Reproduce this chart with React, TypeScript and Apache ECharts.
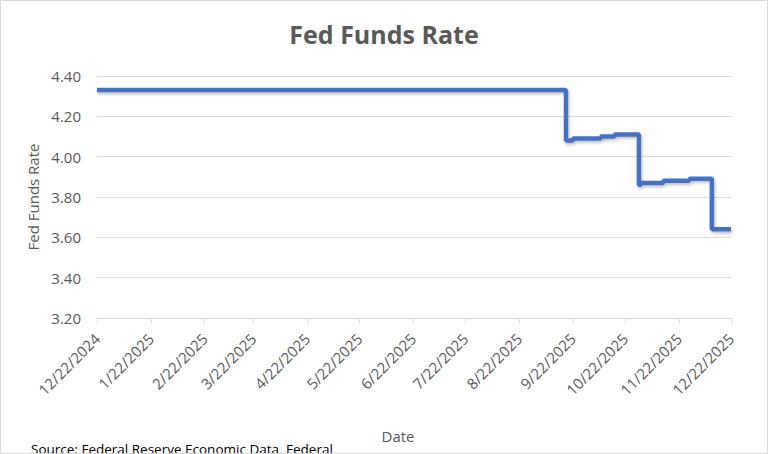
import React, { useEffect, useRef } from "react";
import * as echarts from "echarts";

const changeDates = [
  "12/22/2024", "9/18/2025", "9/22/2025", "10/8/2025", "10/16/2025",
  "10/30/2025", "10/31/2025", "11/13/2025", "11/28/2025", "12/11/2025", "12/22/2025",
];
const rateValues = [4.33, 4.08, 4.09, 4.10, 4.11, 3.86, 3.87, 3.88, 3.89, 3.64, 3.64];

const xTickLabels = [
  "12/22/2024", "1/22/2025", "2/22/2025", "3/22/2025", "4/22/2025", "5/22/2025",
  "6/22/2025", "7/22/2025", "8/22/2025", "9/22/2025", "10/22/2025", "11/22/2025", "12/22/2025",
];
const yTicks = [3.2, 3.4, 3.6, 3.8, 4.0, 4.2, 4.4];

const DAY = 86400000;
const toTs = (s: string) => {
  const [m, d, y] = s.split("/").map(Number);
  return Date.UTC(y, m - 1, d) / DAY;
};
const fmt = (v: number) => {
  const d = new Date(Math.round(v) * DAY);
  return `${d.getUTCMonth() + 1}/${d.getUTCDate()}/${d.getUTCFullYear()}`;
};

const FONT = "'Open Sans', 'Noto Sans', sans-serif";
const GRAY = "#595959";

export default function App() {
  const ref = useRef<HTMLDivElement>(null);
  useEffect(() => {
    if (!ref.current) return;
    const chart = echarts.init(ref.current, undefined, { renderer: "svg" });
    const tickTs = xTickLabels.map(toTs);
    chart.setOption({
      animation: false,
      backgroundColor: "#ffffff",
      textStyle: { fontFamily: FONT },
      title: {
        text: "Fed Funds Rate",
        left: "center",
        top: 16,
        textStyle: { fontFamily: FONT, fontSize: 25, fontWeight: "bold", color: GRAY },
      },
      grid: { left: 97, right: 37, top: 76, bottom: 136 },
      xAxis: {
        type: "value",
        min: tickTs[0],
        max: tickTs[tickTs.length - 1],
        name: "Date",
        nameLocation: "middle",
        nameGap: 110,
        nameTextStyle: { fontFamily: FONT, fontSize: 15, color: GRAY, padding: [0, 32, 0, 0] },
        axisLine: { show: true, lineStyle: { color: "#d9d9d9", width: 1 } },
        axisTick: { show: true, customValues: tickTs, length: 5, lineStyle: { color: "#d9d9d9" } },
        axisLabel: {
          customValues: tickTs,
          rotate: 45,
          margin: 18,
          fontFamily: FONT,
          fontSize: 15,
          color: GRAY,
          formatter: (v: number) => fmt(v),
        },
        splitLine: { show: false },
      },
      yAxis: {
        type: "value",
        min: yTicks[0],
        max: yTicks[yTicks.length - 1],
        interval: 0.2,
        name: "Fed Funds Rate",
        nameLocation: "middle",
        nameGap: 57,
        nameTextStyle: { fontFamily: FONT, fontSize: 15, color: GRAY },
        axisLine: { show: false },
        axisTick: { show: false },
        axisLabel: {
          margin: 16,
          fontFamily: FONT,
          fontSize: 15,
          color: GRAY,
          formatter: (v: number) => v.toFixed(2),
        },
        splitLine: { show: true, lineStyle: { color: "#d9d9d9", width: 1 } },
      },
      series: [
        {
          type: "line",
          step: "end",
          showSymbol: false,
          data: changeDates.map((d, i) => [toTs(d), rateValues[i]]),
          lineStyle: {
            color: "#4472C4",
            width: 4.5,
            shadowColor: "rgba(0,0,0,0.25)",
            shadowBlur: 3,
            shadowOffsetY: 2,
            shadowOffsetX: 1,
          },
          itemStyle: { color: "#4472C4" },
        },
      ],
      graphic: [
        {
          type: "text",
          left: 31,
          top: 442,
          style: {
            text: "Source: Federal Reserve Economic Data, Federal",
            fontFamily: FONT,
            fontSize: 13.5,
            fill: "#000000",
          },
        },
        {
          type: "rect",
          shape: { x: 0.5, y: 0.5, width: 767, height: 453 },
          style: { fill: "none", stroke: "#d9d9d9", lineWidth: 1 },
          silent: true,
        },
      ],
    });
    return () => chart.dispose();
  }, []);
  return (
    <div
      ref={ref}
      style={{ position: "fixed", left: 0, top: 0, width: 768, height: 454 }}
    />
  );
}
